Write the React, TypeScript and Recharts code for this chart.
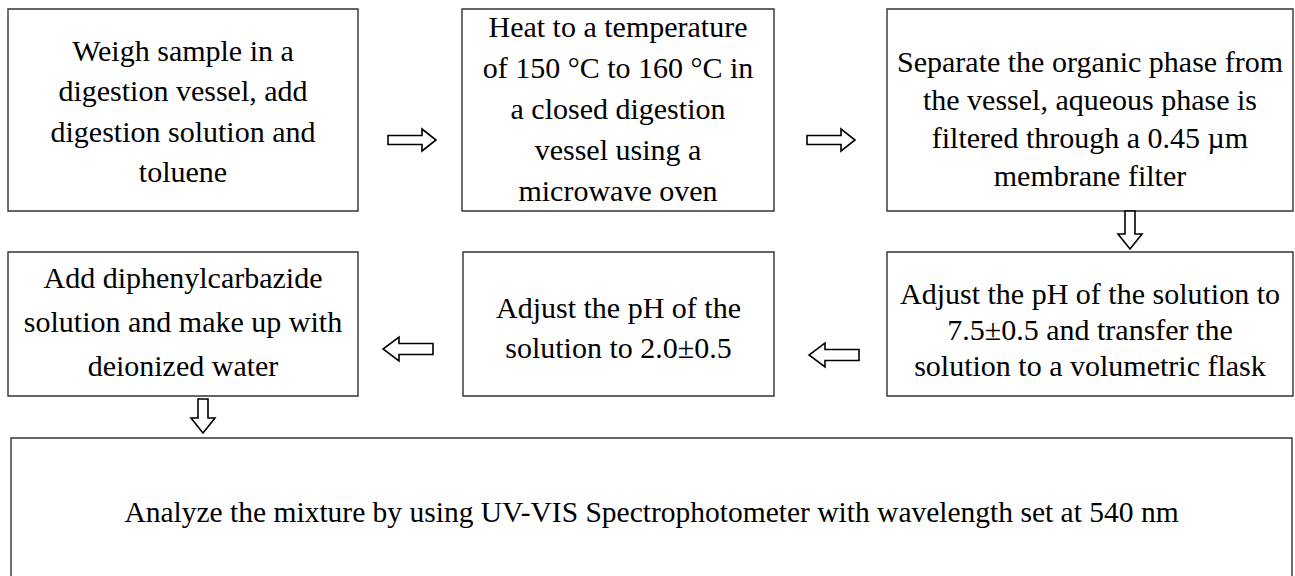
import { ReferenceArea, Scatter, ScatterChart, XAxis, YAxis } from 'recharts';

// flow steps, top row left->right, then middle row right->left, then the final one
const stepLines: string[][] = [
  ['Weigh sample in a', 'digestion vessel, add', 'digestion solution and', 'toluene'],
  ['Heat to a temperature', 'of 150 °C to 160 °C in', 'a closed digestion', 'vessel using a', 'microwave oven'],
  ['Separate the organic phase from', 'the vessel, aqueous phase is', 'filtered through a 0.45 µm', 'membrane filter'],
  ['Adjust the pH of the solution to', '7.5±0.5 and transfer the', 'solution to a volumetric flask'],
  ['Adjust the pH of the', 'solution to 2.0±0.5'],
  ['Add diphenylcarbazide', 'solution and make up with', 'deionized water'],
  ['Analyze the mixture by using UV-VIS Spectrophotometer with wavelength set at 540 nm'],
];

// box extents on the page grid (same order as stepLines)
const boxLeft = [8, 462, 887, 887, 463, 8, 11];
const boxRight = [358, 774, 1293, 1293, 774, 358, 1292];
const boxTop = [9, 9, 9, 252, 252, 252, 438];
const boxBottom = [211, 211, 211, 396, 396, 396, 580];
const textMid = [111, 108, 118, 329, 327, 321, 512];
const lineGap = [40.3, 41, 38, 36, 40, 44, 0];

const arrowX = [412, 831, 1130, 834, 408, 203];
const arrowY = [140, 140, 230, 355, 349, 416];
const arrowDir = ['right', 'right', 'down', 'left', 'left', 'down'];

const W = 1295;
const H = 576;

const labelData = stepLines.map((lines, i) => ({
  x: (boxLeft[i] + boxRight[i]) / 2,
  y: textMid[i],
  lines,
  gap: lineGap[i],
  big: i < 6,
}));

const arrowData = arrowX.map((x, i) => ({ x, y: arrowY[i], dir: arrowDir[i] }));

function StepText(props: any) {
  const { cx, cy, payload } = props;
  const n = payload.lines.length;
  return (
    <text
      x={cx}
      textAnchor="middle"
      fontFamily="'Liberation Serif', 'Times New Roman', serif"
      fontSize={payload.big ? 30 : 29.5}
      fill="#000"
    >
      {payload.lines.map((l: string, i: number) => (
        <tspan key={i} x={cx} y={cy + (i - (n - 1) / 2) * payload.gap} dy="0.35em">
          {l}
        </tspan>
      ))}
    </text>
  );
}

function BlockArrow(props: any) {
  const { cx, cy, payload } = props;
  const dir = payload.dir;
  // hollow block arrow, drawn pointing right then rotated
  let L = 48, h = 4.5, hh = 11, k = 14;
  if (dir === 'left') { L = 50; h = 5.5; hh = 12; k = 16; }
  if (dir === 'down') { L = cy > 300 ? 34 : 38; h = 5; hh = 12; k = 15; }
  const x0 = cx - L / 2;
  const x1 = cx + L / 2;
  const pts = [
    [x0, cy - h], [x1 - k, cy - h], [x1 - k, cy - hh], [x1, cy],
    [x1 - k, cy + hh], [x1 - k, cy + h], [x0, cy + h],
  ].map((p) => p.join(',')).join(' ');
  const angle = dir === 'left' ? 180 : dir === 'down' ? 90 : 0;
  return (
    <polygon
      points={pts}
      fill="#fff"
      stroke="#000"
      strokeWidth={1.6}
      strokeLinejoin="miter"
      transform={`rotate(${angle} ${cx} ${cy})`}
    />
  );
}

export default function App() {
  return (
    <div style={{ position: 'absolute', left: 0, top: 0, width: W, height: H }}>
      <ScatterChart
        width={W}
        height={H}
        margin={{ top: 0, right: 0, bottom: 0, left: 0 }}
        style={{ overflow: 'visible' }}
      >
        <XAxis type="number" dataKey="x" domain={[0, W]} hide allowDataOverflow />
        <YAxis type="number" dataKey="y" domain={[0, H]} reversed hide allowDataOverflow />
        {boxLeft.map((x1, i) => (
          <ReferenceArea
            key={i}
            x1={x1}
            x2={boxRight[i]}
            y1={boxTop[i]}
            y2={boxBottom[i]}
            fill="none"
            stroke="#333"
            strokeWidth={1.4}
            ifOverflow="visible"
          />
        ))}
        <Scatter data={arrowData} shape={BlockArrow} isAnimationActive={false} />
        <Scatter data={labelData} shape={StepText} isAnimationActive={false} />
      </ScatterChart>
    </div>
  );
}
